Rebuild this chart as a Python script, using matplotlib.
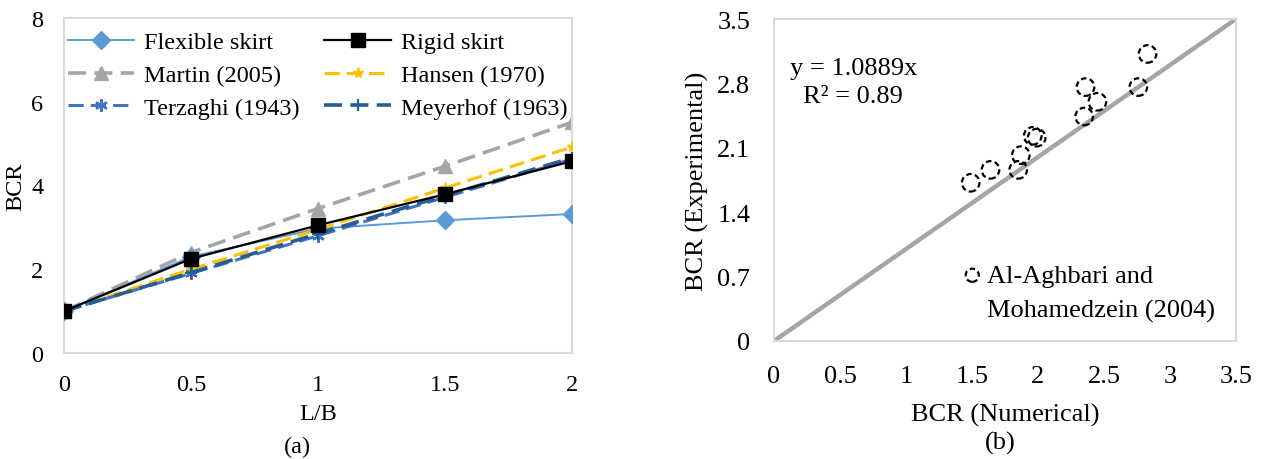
import matplotlib.pyplot as plt
from matplotlib.lines import Line2D

plt.rcParams['font.family'] = ['Liberation Serif', 'DejaVu Serif']

# ------------------------------------------------------------------
# Data (a): BCR vs L/B
# ------------------------------------------------------------------
lb = [0, 0.5, 1, 1.5, 2]
flexible = [1.0, 2.30, 2.97, 3.17, 3.32]
rigid = [1.0, 2.25, 3.05, 3.79, 4.58]
martin = [1.0, 2.40, 3.45, 4.46, 5.51]
hansen = [1.0, 2.00, 2.95, 3.94, 4.92]
terzaghi = [1.0, 1.90, 2.80, 3.72, 4.63]
meyerhof = [1.0, 1.92, 2.85, 3.76, 4.66]

# ------------------------------------------------------------------
# Data (b): experimental vs numerical
# ------------------------------------------------------------------
bcr_num = [1.49, 1.64, 1.85, 1.87, 1.96, 1.99, 2.35, 2.45, 2.36, 2.76, 2.83]
bcr_exp = [1.72, 1.86, 1.86, 2.02, 2.23, 2.21, 2.44, 2.60, 2.76, 2.76, 3.12]
fit_slope = 1.0889
fit_r2 = 0.89

box_color = '#d9d9d9'
dash = (0, (5, 2.3))
fs_a = 17.5
fs_b = 19

W, H = 1263, 460
fig = plt.figure(figsize=(W / 100, H / 100), dpi=100)
ax1 = fig.add_axes([64 / W, 1 - 354 / H, 508 / W, 335 / H])
ax2 = fig.add_axes([774 / W, 1 - 342 / H, 462 / W, 322 / H])

# ------------------------------------------------------------------
# Panel (a)
# ------------------------------------------------------------------
h_flex, = ax1.plot(lb, flexible, color='#5B9BD5', lw=1.4, marker='D', ms=9,
                   label='Flexible skirt', zorder=3)
h_rigid, = ax1.plot(lb, rigid, color='black', lw=1.6, marker='s', ms=10,
                    label='Rigid skirt', zorder=4)
h_martin, = ax1.plot(lb, martin, color='#A5A5A5', lw=2.6, ls=dash, marker='^',
                     ms=10, label='Martin (2005)', zorder=2)
h_hansen, = ax1.plot(lb, hansen, color='#FFC000', lw=2.2, ls=dash, marker='*',
                     ms=8, label='Hansen (1970)', zorder=3)
h_terz, = ax1.plot(lb, terzaghi, color='#4472C4', lw=2.2, ls=dash,
                   marker=(6, 2, 0), ms=9, mew=1.6, label='Terzaghi (1943)',
                   zorder=3)
h_meyer, = ax1.plot(lb, meyerhof, color='#255E91', lw=2.6, ls=dash, marker='+',
                    ms=9, mew=1.6, label='Meyerhof (1963)', zorder=3)

ax1.set_xlim(0, 2)
ax1.set_ylim(0, 8)
ax1.set_xticks([0, 0.5, 1, 1.5, 2])
ax1.set_xticklabels(['0', '0.5', '1', '1.5', '2'])
ax1.set_yticks([0, 2, 4, 6, 8])
ax1.tick_params(length=0, labelsize=fs_a)
ax1.tick_params(axis='x', pad=15)
ax1.tick_params(axis='y', pad=15)
for sp in ax1.spines.values():
    sp.set_color(box_color)
    sp.set_linewidth(1.5)
ax1.set_xlabel('L/B', fontsize=fs_a, labelpad=6)
ax1.set_ylabel('BCR', fontsize=fs_a, labelpad=3)
handles = [h_flex, h_martin, h_terz, h_rigid, h_hansen, h_meyer]
ax1.legend(handles=handles, labels=[h.get_label() for h in handles], ncol=2,
           frameon=False, loc='upper left', fontsize=fs_a, handlelength=2.75,
           handletextpad=0.4, columnspacing=1.0, labelspacing=0.45,
           borderaxespad=0.0, bbox_to_anchor=(-0.012, 0.99))
ax1.text(0.46, -0.28, '(a)', transform=ax1.transAxes, ha='center',
         va='center', fontsize=fs_a)

# ------------------------------------------------------------------
# Panel (b)
# ------------------------------------------------------------------
ax2.plot([0, 3.5], [0, 3.5], color='#A5A5A5', lw=3.2, zorder=2)
h_sc = ax2.scatter(bcr_num, bcr_exp, s=160, facecolors='none',
                   edgecolors='black', linewidths=1.6,
                   linestyles=(0, (2.5, 1.5)), zorder=3)
ax2.set_xlim(0, 3.5)
ax2.set_ylim(0, 3.5)
ax2.set_xticks([0, 0.5, 1, 1.5, 2, 2.5, 3, 3.5])
ax2.set_xticklabels(['0', '0.5', '1', '1.5', '2', '2.5', '3', '3.5'])
ax2.set_yticks([0, 0.7, 1.4, 2.1, 2.8, 3.5])
ax2.set_yticklabels(['0', '0.7', '1.4', '2.1', '2.8', '3.5'])
ax2.tick_params(length=0, labelsize=fs_b)
ax2.tick_params(axis='x', pad=17)
ax2.tick_params(axis='y', pad=17)
for sp in ax2.spines.values():
    sp.set_color(box_color)
    sp.set_linewidth(1.5)
ax2.set_xlabel('BCR (Numerical)', fontsize=fs_b, labelpad=12)
ax2.set_ylabel('BCR (Experimental)', fontsize=fs_b, labelpad=6)
ax2.text(0.035, 0.848, f'y = {fit_slope}x', transform=ax2.transAxes,
         ha='left', va='center', fontsize=fs_b)
ax2.text(0.063, 0.76, f'R\u00b2 = {fit_r2}', transform=ax2.transAxes,
         ha='left', va='center', fontsize=fs_b)
blank = Line2D([], [], ls='none')
ax2.legend(handles=[h_sc, blank],
           labels=['Al-Aghbari and', 'Mohamedzein (2004)'],
           loc='upper left', bbox_to_anchor=(0.412, 0.24), frameon=False,
           fontsize=fs_b, markerscale=0.75, handlelength=0.6,
           handletextpad=0.25, labelspacing=0.4, borderaxespad=0.0,
           borderpad=0.0)
ax2.text(0.49, -0.315, '(b)', transform=ax2.transAxes, ha='center',
         va='center', fontsize=fs_b)

fig.savefig('out.png', dpi=100)
